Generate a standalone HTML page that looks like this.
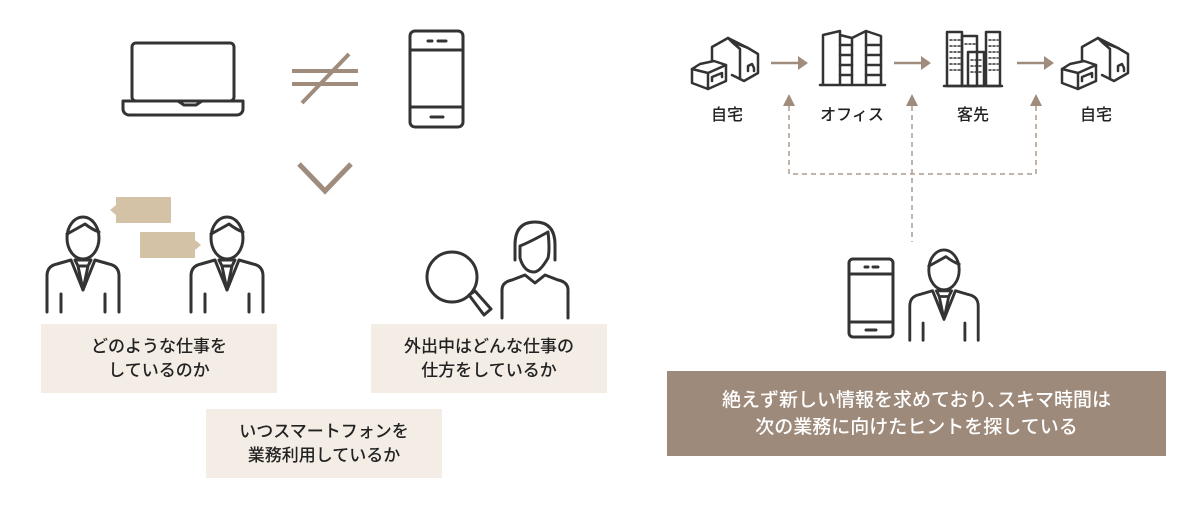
<!DOCTYPE html>
<html><head><meta charset="utf-8"><style>
html,body{margin:0;padding:0;background:#fff;}
body{width:1200px;height:509px;overflow:hidden;position:relative;font-family:"Liberation Sans","Noto Sans CJK JP",sans-serif;}
.box{position:absolute;background:#f3ede5;color:#222;font-size:17px;font-weight:500;line-height:24px;text-align:center;display:flex;align-items:center;justify-content:center;}
.lbl{position:absolute;font-size:16px;font-weight:500;color:#222;transform:translateX(-50%);top:101px;white-space:nowrap;}
.brown{position:absolute;left:667px;top:371px;width:499px;height:85px;background:#9e8a7b;color:#fff;font-size:19px;font-weight:500;line-height:27px;text-align:center;display:flex;align-items:center;justify-content:center;}
svg{position:absolute;left:0;top:0;}
</style></head><body>
<svg width="1200" height="509" viewBox="0 0 1200 509" fill="none" stroke="#333" stroke-width="3" stroke-linejoin="round" stroke-linecap="round">
<rect x="132" y="43" width="102" height="58" rx="4"/>
<path d="M123 101 H178 l6 4 h12 l6 -4 H243 v8 a6 6 0 0 1 -6 6 H129 a6 6 0 0 1 -6 -6 Z"/>
<g stroke="#a08c7c" stroke-width="4" stroke-linecap="butt">
<line x1="292" y1="71" x2="358" y2="71"/><line x1="292" y1="84" x2="358" y2="84"/>
<line x1="349" y1="54" x2="302" y2="103"/></g>
<rect x="410" y="31" width="53" height="96" rx="5"/>
<line x1="410" y1="50" x2="463" y2="50"/><line x1="410" y1="107" x2="463" y2="107"/>
<line x1="428" y1="41" x2="432" y2="41"/><line x1="438" y1="41" x2="446" y2="41"/><line x1="431" y1="117" x2="443" y2="117"/>
<polyline points="299,164 325,191 351,164" stroke="#a08c7c" stroke-width="5" stroke-linecap="butt" stroke-linejoin="miter"/>
<g fill="#d4c2a6" stroke="none">
<rect x="116" y="197" width="55" height="26"/><polygon points="116,205 110,210 116,215"/>
<rect x="140" y="232" width="55" height="26"/><polygon points="195,240 201,245 195,250"/>
</g>
<defs><g id="man">
<ellipse cx="0" cy="22" rx="16" ry="21"/>
<path d="M-16 18 Q-5 12 2 8 Q10 14 16 16"/>
<path d="M-36 96 V60 Q-36 50 -26 48 L-12 44 L0 74 L12 44 L26 48 Q36 50 36 60 V96"/>
<path d="M-8 44 h16 l-3 6 h-10 z M-5 50 L0 74 L5 50"/>
<line x1="-22" y1="78" x2="-22" y2="96"/><line x1="22" y1="78" x2="22" y2="96"/>
</g></defs>
<use href="#man" transform="translate(83,216)"/>
<use href="#man" transform="translate(227,216)"/>
<use href="#man" transform="translate(944,249) scale(0.95)"/>
<circle cx="452" cy="277" r="25"/>
<path d="M469 295 l6 -4 l16 18 l-7 6 z"/>
<path d="M515 260 V245 Q515 222 535 222 Q555 222 555 245 V260"/>
<path d="M520 258 V246 Q530 242 548 232 Q550 250 548 258 Q540 272 534 272 Q524 272 520 258"/>
<path d="M502 318 V290 Q502 282 512 280 L525 275 L535 283 L545 275 L558 280 Q568 282 568 290 V318"/>
<defs><g id="house" stroke-width="2.5">
<path d="M20 28 V14 L36 5 L56 15 L66 21 V40 L52 48 L40 42"/>
<path d="M36 5 L40 9 L56 15 M40 9 L48 16 V46"/>
<path d="M0 36 L8 31 L22 28 L34 32 V48 L16 56 L0 50 Z"/>
<path d="M0 36 L16 40 L34 32 M16 40 V56"/>
<path d="M20 48 V44 L30 40 V44"/>
<path d="M56 38 V33 L60 31 L62 35 V38"/>
</g></defs>
<use href="#house" transform="translate(692,33)"/>
<use href="#house" transform="translate(1062,33)"/>
<path d="M820 85 H885 M823 85 V35 L840 31 V85 M840 35 L852 38 V85 M852 38 L866 31 L881 36 V85 M866 31 V85" stroke-width="2.5"/>
<path d="M840 45 H852 M840 55 H852 M840 65 H852 M840 75 H852 M866 45 H881 M866 55 H881 M866 65 H881 M866 75 H881" stroke-width="2.5"/>
<g stroke-width="2.5">
<path d="M944 86 H1002"/>
<rect x="947" y="32" width="15" height="54"/><rect x="962" y="36" width="15" height="50"/><rect x="986" y="32" width="14" height="54"/><rect x="968" y="52" width="16" height="34"/>
</g>
<g stroke="#333" stroke-width="1.5" stroke-dasharray="2 2">
<path d="M950 40 H960 M950 46 H960 M950 52 H960 M950 58 H960 M950 64 H960 M950 70 H960 M989 40 H998 M989 46 H998 M989 52 H998 M989 58 H998 M989 64 H998 M989 70 H998 M971 60 H981 M971 66 H981 M971 72 H981 M965 44 H975"/>
</g>
<g stroke="#a08c7c" stroke-width="2.5" stroke-linecap="butt">
<line x1="771" y1="63" x2="800" y2="63"/><line x1="894" y1="63" x2="923" y2="63"/><line x1="1017" y1="63" x2="1046" y2="63"/>
</g>
<g fill="#a08c7c" stroke="none">
<polygon points="798,56 808,63 798,70"/><polygon points="921,56 931,63 921,70"/><polygon points="1044,56 1054,63 1044,70"/>
<polygon points="783,106 789,94 795,106"/><polygon points="906,106 912,94 918,106"/><polygon points="1030,106 1036,94 1042,106"/>
</g>
<g stroke="#b09c8c" stroke-width="1.5" stroke-dasharray="5 4" stroke-linecap="butt">
<path d="M789 106 V174 H1036 V106"/><path d="M912 106 V242"/>
</g>
<rect x="849" y="259" width="44" height="78" rx="4"/>
<line x1="849" y1="274" x2="893" y2="274"/><line x1="849" y1="322" x2="893" y2="322"/>
<line x1="865" y1="267" x2="868" y2="267"/><line x1="873" y1="267" x2="878" y2="267"/><line x1="866" y1="330" x2="876" y2="330"/>
</svg>
<div class="lbl" style="left:727px">自宅</div>
<div class="lbl" style="left:852px">オフィス</div>
<div class="lbl" style="left:973px">客先</div>
<div class="lbl" style="left:1096px">自宅</div>
<div class="box" style="left:41px;top:324px;width:236px;height:69px">どのような仕事を<br>しているのか</div>
<div class="box" style="left:371px;top:324px;width:236px;height:69px">外出中はどんな仕事の<br>仕方をしているか</div>
<div class="box" style="left:206px;top:409px;width:236px;height:69px">いつスマートフォンを<br>業務利用しているか</div>
<div class="brown">絶えず新しい情報を求めており､スキマ時間は<br>次の業務に向けたヒントを探している</div>
</body></html>
